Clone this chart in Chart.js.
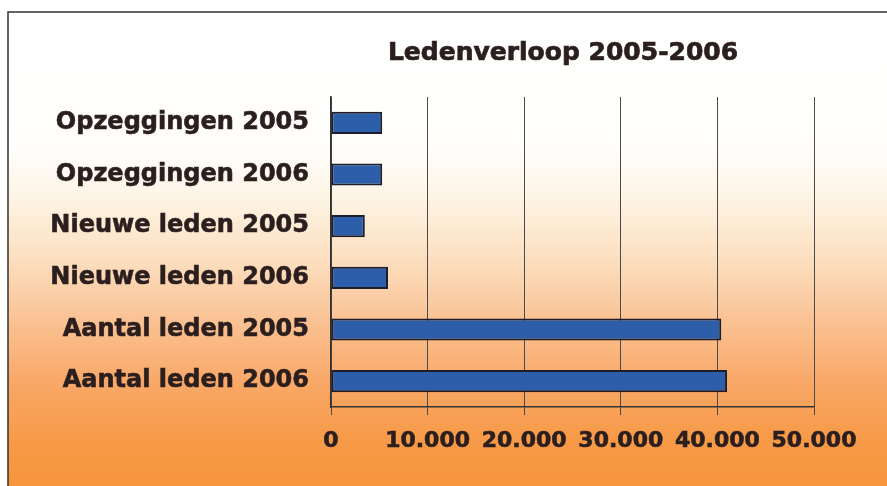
<!DOCTYPE html>
<html>
<head>
<meta charset="utf-8">
<script src="https://cdn.jsdelivr.net/npm/chart.js@4"></script>
<style>
  html, body { margin: 0; padding: 0; background: #ffffff; }
  #wrap { width: 887px; height: 486px; }
</style>
</head>
<body>
<div id="wrap"><canvas id="ledenChart" width="887" height="486"></canvas></div>
<script>
const categories = [
  "Opzeggingen 2005",
  "Opzeggingen 2006",
  "Nieuwe leden 2005",
  "Nieuwe leden 2006",
  "Aantal leden 2005",
  "Aantal leden 2006",
];
const members = [5300, 5300, 3500, 5900, 40400, 41000];
const xTicks = [0, 10000, 20000, 30000, 40000, 50000];
const chartTitle = "Ledenverloop 2005-2006";

const textColor = "#2b1e1e";
const fontFamily = "'DejaVu Sans', Verdana, sans-serif";

// background gradient, frame and title
const backdrop = {
  id: "backdrop",
  beforeDraw(chart) {
    const c = chart.ctx;
    const w = chart.width;
    const h = chart.height;
    c.save();
    c.fillStyle = "#ffffff";
    c.fillRect(0, 0, w, h);
    const g = c.createLinearGradient(0, 12, 0, h);
    g.addColorStop(0, "#ffffff");
    g.addColorStop(0.29, "#fffefc");
    g.addColorStop(0.4, "#fdf3e2");
    g.addColorStop(0.52, "#fcdfc0");
    g.addColorStop(0.65, "#fac294");
    g.addColorStop(0.78, "#f8a868");
    g.addColorStop(0.9, "#f79a48");
    g.addColorStop(1, "#f7953c");
    c.fillStyle = g;
    c.fillRect(8, 12, w - 8, h - 12);
    c.strokeStyle = "#333333";
    c.lineWidth = 1.5;
    c.beginPath();
    c.moveTo(8, h);
    c.lineTo(8, 12);
    c.lineTo(w, 12);
    c.stroke();
    c.restore();
  },
  afterDraw(chart) {
    const c = chart.ctx;
    c.save();
    c.fillStyle = textColor;
    c.strokeStyle = textColor;
    c.lineWidth = 0.7;
    c.font = "bold 25px " + fontFamily;
    c.textAlign = "center";
    c.textBaseline = "middle";
    c.fillText(chartTitle, 563, 53);
    c.strokeText(chartTitle, 563, 53);
    c.restore();
  },
};

new Chart(document.getElementById("ledenChart"), {
  type: "bar",
  data: {
    labels: categories,
    datasets: [
      {
        data: members,
        backgroundColor: "#2c5ea9",
        borderColor: "#1c1c2a",
        borderWidth: 2,
        borderSkipped: false,
        categoryPercentage: 1,
        barPercentage: 0.43,
      },
    ],
  },
  options: {
    indexAxis: "y",
    responsive: false,
    animation: false,
    layout: {
      padding: { left: 0, right: 73, top: 97, bottom: 0 },
    },
    plugins: {
      legend: { display: false },
      tooltip: { enabled: false },
    },
    scales: {
      x: {
        min: 0,
        max: 50000,
        afterBuildTicks(axis) {
          axis.ticks = xTicks.map((v) => ({ value: v }));
        },
        afterFit(axis) {
          axis.height = 79;
        },
        grid: {
          color: "#4a4a4a",
          lineWidth: 1,
          tickLength: 8,
          drawTicks: true,
        },
        border: { color: "#333333", width: 1.5 },
        ticks: {
          color: textColor,
          textStrokeColor: textColor,
          textStrokeWidth: 0.6,
          padding: 13,
          font: { family: fontFamily, size: 22, weight: "bold" },
          maxRotation: 0,
          callback: (v) => v.toLocaleString("de-DE"),
        },
      },
      y: {
        grid: { display: false },
        border: { color: "#333333", width: 1.5 },
        afterFit(axis) {
          axis.width = 331;
        },
        ticks: {
          color: textColor,
          textStrokeColor: textColor,
          textStrokeWidth: 0.6,
          padding: 14,
          font: { family: fontFamily, size: 24, weight: "bold" },
        },
      },
    },
  },
  plugins: [backdrop],
});
</script>
</body>
</html>
